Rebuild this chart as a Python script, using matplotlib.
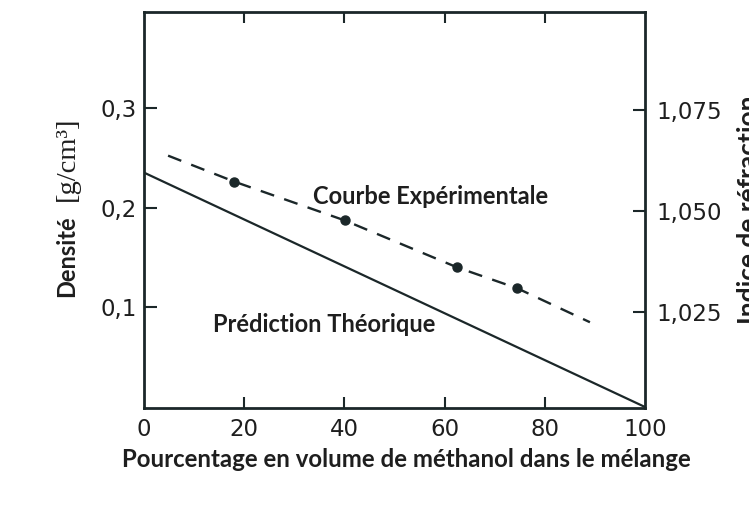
import numpy as np
import matplotlib
matplotlib.use("Agg")
import matplotlib.pyplot as plt

# ------------------------------------------------------------
# Data
# ------------------------------------------------------------

# theoretical prediction: straight line from pure water to pure methanol
theo_x = [0, 100]
theo_density = [0.235, 0.0]

# experimental curve (dashed) and measured points
exp_x = [4.8, 18.0, 40.1, 62.5, 74.5, 89.0]
exp_density = [0.252, 0.226, 0.187, 0.140, 0.119, 0.085]
meas_x = [18.0, 40.1, 62.5, 74.5]
meas_density = [0.226, 0.187, 0.140, 0.119]

x_ticks = [0, 20, 40, 60, 80, 100]
x_ticklabels = ["0", "20", "40", "60", "80", "100"]
dens_ticks = [0.1, 0.2, 0.3]
dens_ticklabels = ["0,1", "0,2", "0,3"]
ri_ticks = [1.025, 1.050, 1.075]
ri_ticklabels = ["1,025", "1,050", "1,075"]

INK = "#1b2729"
TXT = "#1e1e1e"
HUMANIST = "Lato"

# ------------------------------------------------------------
# Figure
# ------------------------------------------------------------

fig = plt.figure(figsize=(7.49, 5.09), dpi=100)
ax = fig.add_axes([0.1923, 0.1984, 0.6689, 0.778])

ax.plot(theo_x, theo_density, color=INK, lw=1.6, solid_capstyle="butt")
ax.plot(exp_x, exp_density, color=INK, lw=1.7, dashes=(6, 4.5))
ax.plot(meas_x, meas_density, "o", color=INK, ms=6.5, mec=INK)

ax.set_xlim(0, 100)
ax.set_ylim(-0.001, 0.396)

ax.set_xticks(x_ticks)
ax.set_xticklabels(x_ticklabels)
ax.set_yticks(dens_ticks)
ax.set_yticklabels(dens_ticklabels)

ax.tick_params(axis="x", direction="in", length=8, width=1.5, color=INK,
               top=True, pad=7, labelsize=16.5, labelcolor=TXT)
ax.tick_params(axis="y", direction="in", length=9, width=1.5, color=INK,
               pad=5, labelsize=16.5, labelcolor=TXT)
# no tick marks on the box corners at x=0 / x=100
for t in ax.xaxis.get_major_ticks():
    if t.get_loc() in (0, 100):
        t.tick1line.set_visible(False)
        t.tick2line.set_visible(False)

for s in ax.spines.values():
    s.set_color(INK)
    s.set_linewidth(2.0)

# refractive index scale on the right
ax2 = ax.twinx()
ax2.set_ylim(1.0012, 1.0993)
ax2.set_yticks(ri_ticks)
ax2.set_yticklabels(ri_ticklabels)
ax2.tick_params(axis="y", direction="in", length=9, width=1.5, color=INK,
                pad=8, labelsize=16.5, labelcolor=TXT)
for s in ax2.spines.values():
    s.set_visible(False)

# curve annotations
ax.text(33.7, 0.204, "Courbe Expérimentale", fontsize=17, fontweight="bold",
        family=HUMANIST, color=TXT, ha="left", va="baseline")
ax.text(13.8, 0.075, "Prédiction Théorique", fontsize=17, fontweight="bold",
        family=HUMANIST, color=TXT, ha="left", va="baseline")

# axis titles
fig.text(122 / 749, (509 - 467) / 509,
         "Pourcentage en volume de méthanol dans le mélange",
         fontsize=17.3, fontweight="bold", family=HUMANIST, color=TXT,
         ha="left", va="baseline")

fig.text(67 / 749, (509 - 297) / 509, "Densité", rotation=90,
         fontsize=17, fontweight="bold", family=HUMANIST, color=TXT,
         ha="center", va="bottom")
fig.text(67 / 749, (509 - 201) / 509, "[g/cm³]", rotation=90,
         fontsize=20.5, family="Liberation Serif", color=TXT,
         ha="center", va="bottom")

fig.text(737 / 749, (509 - 210) / 509, "Indice de réfraction", rotation=90,
         fontsize=19, fontweight="bold", family=HUMANIST, color=TXT,
         ha="left", va="center")

fig.savefig("out.png", dpi=100)
